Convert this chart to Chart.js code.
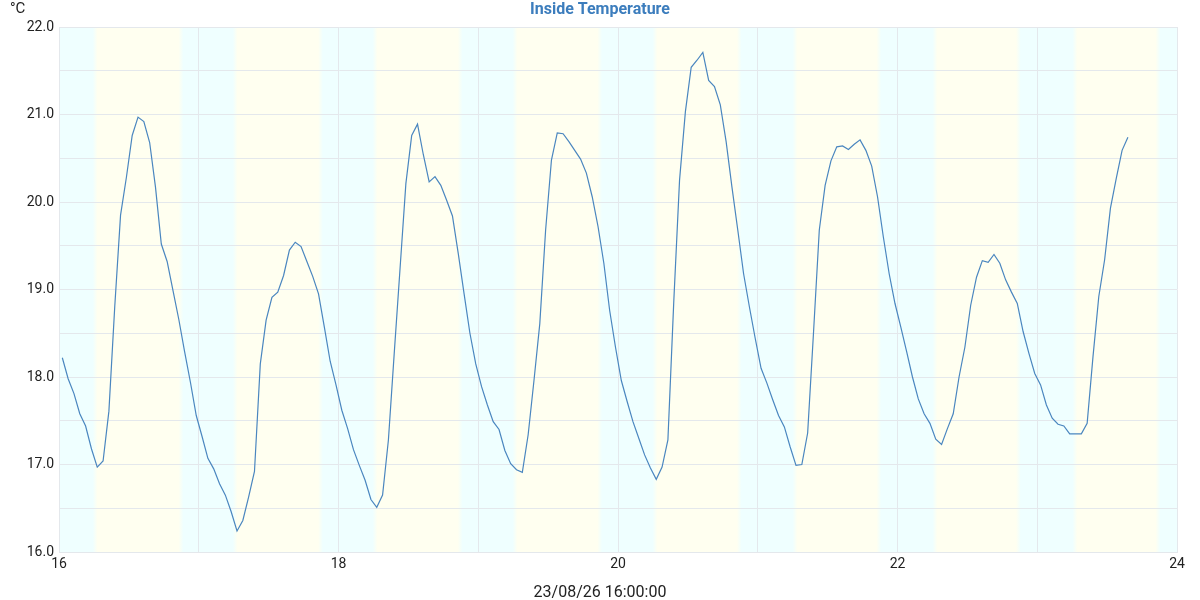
<!DOCTYPE html>
<html>
<head>
<meta charset="utf-8">
<title>Inside Temperature</title>
<script src="https://cdn.jsdelivr.net/npm/chart.js@4"></script>
<style>
  html, body { margin: 0; padding: 0; background: #ffffff; }
  #wrap { width: 1200px; height: 600px; }
</style>
</head>
<body>
<div id="wrap"><canvas id="myChart" width="1200" height="600"></canvas></div>
<script>
// hourly readings, first one at 16 + 0.57h (x axis is day of month)
const startDay = 16 + 0.57 / 24;
const temps = [
    18.22, 17.98, 17.81, 17.58, 17.44, 17.18, 16.97, 17.04, 17.61,
    18.80, 19.85, 20.28, 20.76, 20.97, 20.92, 20.68, 20.17, 19.52, 19.32, 18.99,
    18.66, 18.29, 17.94, 17.56, 17.32, 17.07, 16.95, 16.78, 16.65, 16.46,
    16.24, 16.36, 16.63, 16.92, 18.15, 18.65, 18.91, 18.97, 19.16, 19.45,
    19.54, 19.49, 19.32, 19.15, 18.95, 18.57, 18.18, 17.91, 17.62, 17.41,
    17.17, 16.99, 16.82, 16.60, 16.51, 16.65, 17.28, 18.27, 19.24, 20.21,
    20.76, 20.89, 20.54, 20.23, 20.29, 20.19, 20.02, 19.84, 19.41, 18.95,
    18.50, 18.15, 17.89, 17.68, 17.49, 17.40, 17.16, 17.01, 16.94, 16.91,
    17.34, 17.96, 18.61, 19.68, 20.48, 20.79, 20.78, 20.69, 20.59, 20.49,
    20.33, 20.06, 19.72, 19.30, 18.76, 18.34, 17.96, 17.72, 17.49, 17.30,
    17.11, 16.96, 16.83, 16.97, 17.28, 18.85, 20.25, 21.03, 21.54, 21.62,
    21.71, 21.39, 21.32, 21.11, 20.69, 20.17, 19.68, 19.18, 18.80, 18.44,
    18.10, 17.93, 17.74, 17.56, 17.43, 17.20, 16.99, 17.00, 17.36, 18.50,
    19.68, 20.19, 20.47, 20.63, 20.64, 20.60, 20.66, 20.71, 20.59, 20.41,
    20.06, 19.60, 19.18, 18.84, 18.57, 18.29, 18.00, 17.75, 17.58, 17.47,
    17.29, 17.23, 17.41, 17.58, 18.00, 18.34, 18.82, 19.14, 19.33, 19.31,
    19.40, 19.30, 19.11, 18.97, 18.84, 18.52, 18.27, 18.04, 17.91, 17.68,
    17.53, 17.46, 17.44, 17.35, 17.35, 17.35, 17.47, 18.23, 18.92, 19.34,
    19.93, 20.27, 20.59, 20.74
];

// daylight bands (hours of each day)
const days = [16, 17, 18, 19, 20, 21, 22, 23];
const sunrise = [6.20, 6.25, 6.28, 6.32, 6.35, 6.40, 6.43, 6.47];
const sunset = [20.95, 20.92, 20.89, 20.86, 20.83, 20.80, 20.77, 20.73];

const xTicks = [16, 18, 20, 22, 24];
const yTicks = [16, 17, 18, 19, 20, 21, 22];

const titleText = 'Inside Temperature';
const unitText = '°C';
const dateText = '23/08/26 16:00:00';

const nightColor = '#efffff';
const dayColor = '#fffff0';

const points = temps.map((t, i) => ({ x: startDay + i / 24, y: t }));

const dayBands = {
    id: 'dayBands',
    beforeDraw(chart) {
        const ctx = chart.ctx;
        const area = chart.chartArea;
        const xs = chart.scales.x;
        ctx.save();
        ctx.fillStyle = nightColor;
        ctx.fillRect(area.left, area.top, area.right - area.left, area.bottom - area.top);
        const fade = 0.4 / 24;
        days.forEach((d, i) => {
            const a0 = xs.getPixelForValue(d + sunrise[i] / 24 - fade);
            const a1 = xs.getPixelForValue(d + sunrise[i] / 24 + fade);
            const b0 = xs.getPixelForValue(d + sunset[i] / 24 - fade);
            const b1 = xs.getPixelForValue(d + sunset[i] / 24 + fade);
            const g = ctx.createLinearGradient(a0, 0, b1, 0);
            const w = b1 - a0;
            g.addColorStop(0, nightColor);
            g.addColorStop((a1 - a0) / w, dayColor);
            g.addColorStop((b0 - a0) / w, dayColor);
            g.addColorStop(1, nightColor);
            ctx.fillStyle = g;
            ctx.fillRect(a0, area.top, w, area.bottom - area.top);
        });
        ctx.restore();
    },
    afterDraw(chart) {
        const ctx = chart.ctx;
        const w = chart.width;
        ctx.save();
        ctx.textBaseline = 'middle';
        ctx.textAlign = 'center';
        ctx.fillStyle = '#3c7dbd';
        ctx.font = 'bold 16px Roboto';
        ctx.fillText(titleText, w / 2, 10);
        ctx.fillStyle = '#222222';
        ctx.font = '16px Roboto';
        ctx.fillText(dateText, w / 2, 593);
        ctx.textAlign = 'left';
        ctx.font = '15px Roboto';
        ctx.fillText(unitText, 10, 9);
        ctx.restore();
    }
};

const ctx = document.getElementById('myChart').getContext('2d');
const chart = new Chart(ctx, {
    type: 'line',
    data: {
        datasets: [{
            label: titleText,
            data: points,
            borderColor: '#4a86bf',
            borderWidth: 1.2,
            pointRadius: 0,
            tension: 0,
            fill: false
        }]
    },
    options: {
        responsive: false,
        animation: false,
        layout: { padding: { left: 0, right: 23, top: 27, bottom: 0 } },
        scales: {
            x: {
                type: 'linear',
                min: 16,
                max: 24,
                afterFit: s => { s.height = 48; },
                grid: { color: '#e4e8ec', drawTicks: false },
                border: { color: '#e4e8ec' },
                ticks: {
                    stepSize: 1,
                    padding: 4,
                    color: '#222222',
                    font: { family: 'Roboto', size: 14 },
                    maxRotation: 0,
                    autoSkip: false,
                    callback: v => xTicks.includes(v) ? String(v) : ''
                }
            },
            y: {
                min: 16,
                max: 22,
                afterFit: s => { s.width = 59; },
                grid: { color: '#e4e8ec', drawTicks: false },
                border: { color: '#e4e8ec' },
                ticks: {
                    stepSize: 0.5,
                    padding: 5,
                    color: '#222222',
                    font: { family: 'Roboto', size: 14 },
                    autoSkip: false,
                    callback: v => yTicks.includes(v) ? v.toFixed(1) : ''
                }
            }
        },
        plugins: {
            legend: { display: false },
            tooltip: { enabled: false },
            title: { display: false }
        }
    },
    plugins: [dayBands]
});
</script>
</body>
</html>
